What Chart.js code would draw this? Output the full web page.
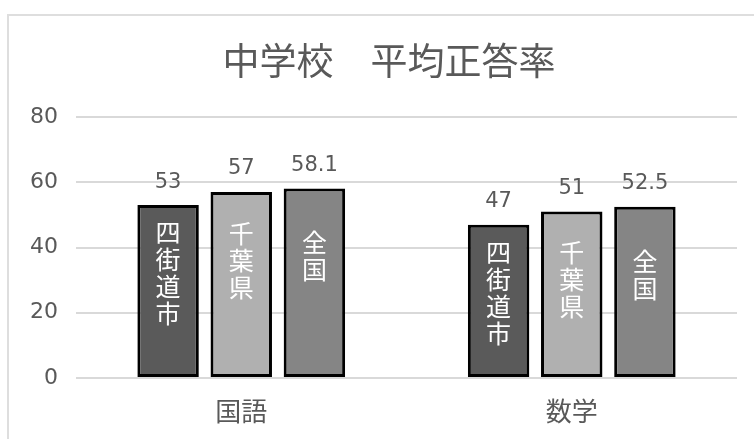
<!DOCTYPE html>
<html>
<head>
<meta charset="utf-8">
<script src="https://cdn.jsdelivr.net/npm/chart.js@4.4.1/dist/chart.umd.min.js"></script>
<style>
  html, body { margin: 0; padding: 0; background: #fff; }
  #wrap { position: relative; width: 754px; height: 439px; overflow: hidden; }
  #wrap canvas { position: absolute; left: 0; top: 0; }
  #frame {
    position: absolute; left: 7px; top: 14px; width: 800px; height: 500px;
    border: 2px solid #dedede; box-sizing: border-box; pointer-events: none;
  }
</style>
</head>
<body>
<div id="wrap">
  <canvas id="chart" width="754" height="439"></canvas>
  <div id="frame"></div>
</div>
<script>
const chartTitle = '中学校　平均正答率';
const subjects = ['国語', '数学'];
const seriesNames = ['四街道市', '千葉県', '全国'];
const yotsukaidoScores = [53, 47];
const chibaScores = [57, 51];
const nationalScores = [58.1, 52.5];
const yTicks = [0, 20, 40, 60, 80];

const FONT = '"Noto Sans CJK JP", "Noto Sans", sans-serif';
const NUM_FONT = '"DejaVu Sans", sans-serif';
const TEXT_GRAY = '#595959';

// title is centred on the outer frame, not on the canvas, so it is drawn by hand
const frameTitle = {
    id: 'frameTitle',
    afterDraw(chart) {
        const ctx = chart.ctx;
        ctx.save();
        ctx.fillStyle = TEXT_GRAY;
        ctx.font = '37px ' + FONT;
        ctx.textAlign = 'center';
        ctx.textBaseline = 'middle';
        ctx.fillText(chartTitle, 389, 60.5);
        ctx.restore();
    }
};

// value above each bar, series name written vertically inside it
const barLabels = {
    id: 'barLabels',
    afterDatasetsDraw(chart) {
        const ctx = chart.ctx;
        ctx.save();
        ctx.textAlign = 'center';
        ctx.textBaseline = 'middle';
        chart.data.datasets.forEach((ds, i) => {
            const meta = chart.getDatasetMeta(i);
            meta.data.forEach((bar, j) => {
                ctx.fillStyle = TEXT_GRAY;
                ctx.font = '21px ' + NUM_FONT;
                ctx.fillText(String(ds.data[j]), bar.x, bar.y - 23);

                const chars = [...ds.label];
                const pitch = 27;
                const top = bar.y + 68 - chars.length * pitch / 2;
                ctx.fillStyle = '#ffffff';
                ctx.font = '25px ' + FONT;
                chars.forEach((c, k) => ctx.fillText(c, bar.x, top + pitch * (k + 0.5)));
            });
        });
        ctx.restore();
    }
};

const barStyle = {
    borderColor: '#000000',
    borderWidth: 3,
    borderSkipped: false,
    categoryPercentage: 0.664,
    barPercentage: 0.84
};

new Chart(document.getElementById('chart'), {
    type: 'bar',
    data: {
        labels: subjects,
        datasets: [
            { label: seriesNames[0], data: yotsukaidoScores, backgroundColor: '#5a5a5a', ...barStyle },
            { label: seriesNames[1], data: chibaScores, backgroundColor: '#b0b0b0', ...barStyle },
            { label: seriesNames[2], data: nationalScores, backgroundColor: '#858585', ...barStyle }
        ]
    },
    options: {
        responsive: false,
        animation: false,
        devicePixelRatio: 1,
        layout: { padding: { left: 0, right: 17, top: 117, bottom: 0 } },
        plugins: {
            legend: { display: false },
            tooltip: { enabled: false },
            title: { display: false }
        },
        scales: {
            x: {
                grid: { display: false, drawTicks: false },
                border: { display: false },
                ticks: { color: TEXT_GRAY, font: { family: FONT, size: 26 }, padding: 18 },
                afterFit: scale => { scale.height = 61; }
            },
            y: {
                min: 0,
                max: 80,
                afterBuildTicks: scale => { scale.ticks = yTicks.map(v => ({ value: v })); },
                grid: { color: '#d9d9d9', lineWidth: 2, drawTicks: false },
                border: { display: false },
                ticks: { color: TEXT_GRAY, font: { family: NUM_FONT, size: 22 }, padding: 18 },
                afterFit: scale => { scale.width = 76; }
            }
        }
    },
    plugins: [barLabels, frameTitle]
});
</script>
</body>
</html>
